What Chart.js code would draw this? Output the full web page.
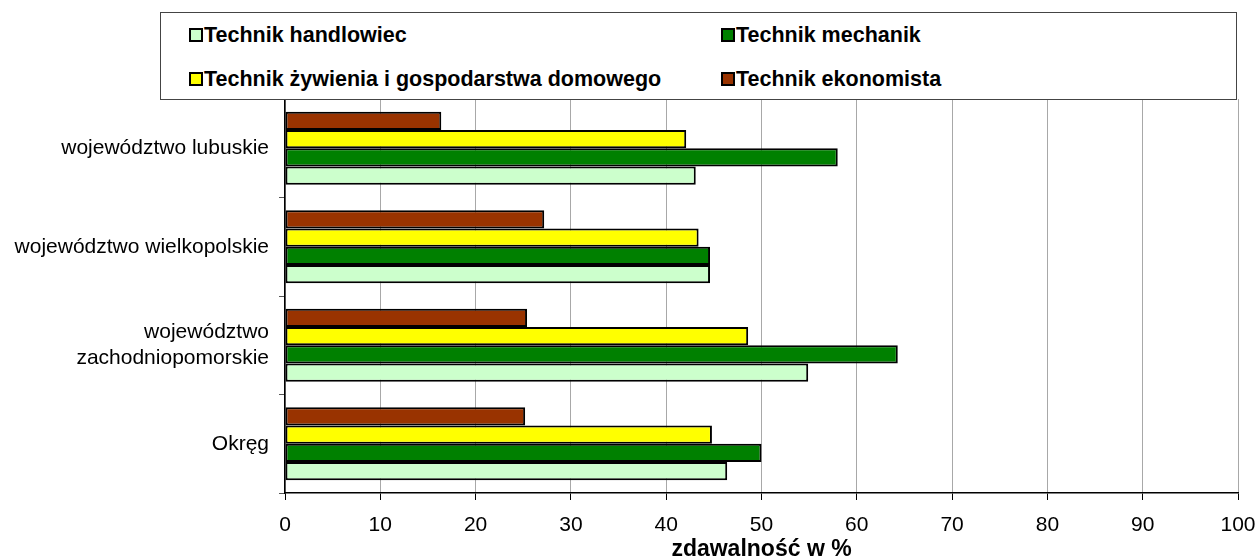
<!DOCTYPE html>
<html lang="pl">
<head>
  <meta charset="UTF-8">
  <title>Zdawalność - technicy</title>
  <script src="https://cdn.jsdelivr.net/npm/chart.js"></script>
  <style>
    body { margin: 0; background: #fff; font-family: Arial, 'Liberation Sans', sans-serif; }
    #wrap { position: relative; width: 1260px; height: 560px; }
    #legend { position: absolute; left: 160px; top: 12px; width: 1075px; height: 86px;
      border: 1px solid #444; background: #fff; }
    .item { position: absolute; font-weight: bold; font-size: 21.5px; line-height: 24px; color: #000; white-space: nowrap; }
    .box { display: inline-block; width: 10px; height: 10px; border: 2px solid #000;
      margin-right: 1px; vertical-align: 0px; }
  </style>
</head>
<body>
  <div id="wrap">
    <canvas id="chart" width="1260" height="560"></canvas>
    <div id="legend"></div>
  </div>

  <script>
    // categories (top to bottom)
    const regions = [
      'województwo lubuskie',
      'województwo wielkopolskie',
      ['województwo', 'zachodniopomorskie'],
      'Okręg'
    ];

    // series values, % pass rate
    const handlowiec = [43.1, 44.6, 54.9, 46.4];
    const mechanik = [58.0, 44.6, 64.3, 50.0];
    const zywienia = [42.1, 43.4, 48.6, 44.8];
    const ekonomista = [16.4, 27.2, 25.4, 25.2];

    const seriesNames = ['Technik handlowiec', 'Technik mechanik',
      'Technik żywienia i gospodarstwa domowego', 'Technik ekonomista'];
    const seriesColors = ['#CCFFCC', '#008000', '#FFFF00', '#993300'];

    // legend (same layout as original: two columns)
    const legendPos = [[28, 10], [560, 10], [28, 54], [560, 54]];
    const legend = document.getElementById('legend');
    seriesNames.forEach((name, i) => {
      const el = document.createElement('div');
      el.className = 'item';
      el.style.left = legendPos[i][0] + 'px';
      el.style.top = legendPos[i][1] + 'px';
      el.innerHTML = '<span class="box" style="background:' + seriesColors[i] + '"></span>' + name;
      legend.appendChild(el);
    });

    const font = "Arial, 'Liberation Sans', sans-serif";

    // top bar in each group is ekonomista, bottom is handlowiec
    const order = [3, 2, 1, 0];
    const values = [handlowiec, mechanik, zywienia, ekonomista];

    new Chart(document.getElementById('chart'), {
      type: 'bar',
      data: {
        labels: regions,
        datasets: order.map(i => ({
          label: seriesNames[i],
          data: values[i],
          backgroundColor: seriesColors[i],
          borderColor: '#000',
          borderWidth: 2,
          borderSkipped: false,
          categoryPercentage: 0.74,
          barPercentage: 1.0
        }))
      },
      options: {
        indexAxis: 'y',
        responsive: false,
        animation: false,
        layout: { padding: { top: 99, right: 22, left: 0, bottom: 0 } },
        plugins: { legend: { display: false }, tooltip: { enabled: false } },
        scales: {
          x: {
            min: 0,
            max: 100,
            ticks: { stepSize: 10, color: '#000', padding: 13, font: { family: font, size: 21 } },
            grid: { color: '#a8a8a8', tickColor: '#000', tickLength: 7 },
            border: { color: '#000', width: 1.5 },
            title: {
              display: true,
              text: 'zdawalność w %',
              color: '#000',
              padding: { top: 0, bottom: -3 },
              font: { family: font, size: 23, weight: 'bold' }
            },
            afterFit: s => { s.height = 67; s.paddingRight = 10; }
          },
          y: {
            ticks: { color: '#000', padding: 10, font: { family: font, size: 21 } },
            grid: { drawOnChartArea: false, offset: true, tickColor: '#555', tickLength: 6 },
            border: { color: '#000', width: 1.5 },
            afterFit: s => { s.width = 285; }
          }
        }
      }
    });
  </script>
</body>
</html>
